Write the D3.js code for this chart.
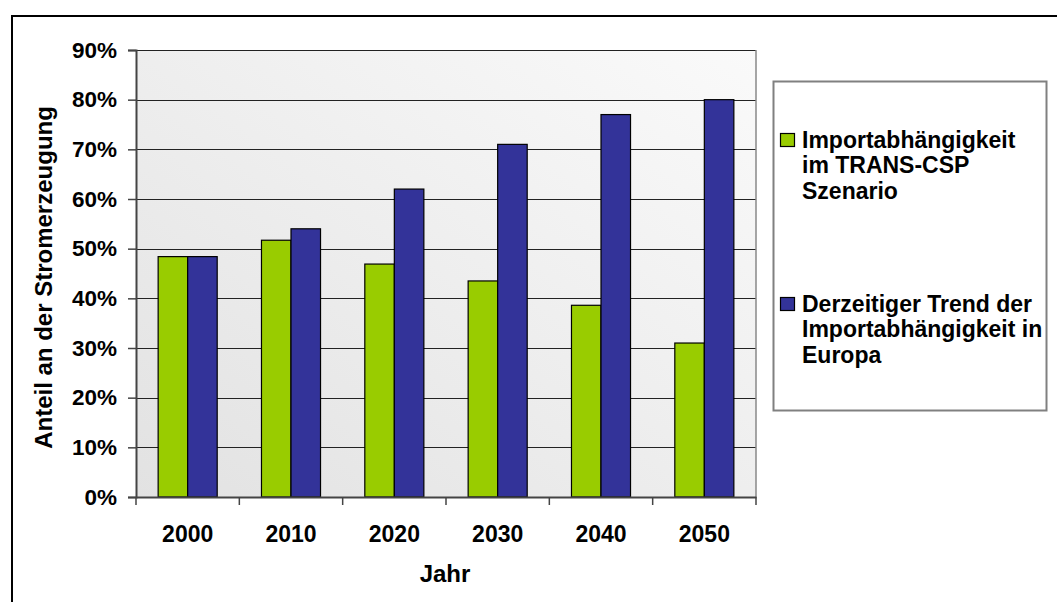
<!DOCTYPE html>
<html>
<head>
<meta charset="utf-8">
<script src="https://cdn.jsdelivr.net/npm/d3@7"></script>
<style>
html,body{margin:0;padding:0;background:#fff;}
svg{display:block;font-family:"Liberation Sans",Arial,sans-serif;font-weight:bold;}
</style>
</head>
<body>
<svg id="chart" width="1057" height="602"></svg>
<script>
const years = ["2000","2010","2020","2030","2040","2050"];
const seriesNames = ["Importabhängigkeit im TRANS-CSP Szenario", "Derzeitiger Trend der Importabhängigkeit in Europa"];
const transCsp = [48.4, 51.7, 46.9, 43.5, 38.6, 31.0];
const trendEuropa = [48.4, 54.0, 62.0, 71.0, 77.0, 80.0];
const yTicks = [0,10,20,30,40,50,60,70,80,90];
const legendLines = [["Importabhängigkeit","im TRANS-CSP","Szenario"],["Derzeitiger Trend der","Importabhängigkeit in","Europa"]];
const colors = ["#99cc00","#333399"];

const svg = d3.select("#chart");
const plot = {x0:136, x1:756, y0:50, y1:497};

// outer frame
svg.append("rect").attr("x",12).attr("y",16).attr("width",1100).attr("height",700)
  .attr("fill","none").attr("stroke","#000").attr("stroke-width",2);

const defs = svg.append("defs");
const grad = defs.append("linearGradient").attr("id","bg").attr("x1","100%").attr("y1","0%").attr("x2","0%").attr("y2","100%");
grad.append("stop").attr("offset","0%").attr("stop-color","#fafafa");
grad.append("stop").attr("offset","100%").attr("stop-color","#e2e2e2");

const x = d3.scaleBand().domain(years).range([plot.x0, plot.x1]).paddingInner(0).paddingOuter(0);
const y = d3.scaleLinear().domain([0,90]).range([plot.y1, plot.y0]);
const inner = d3.scaleBand().domain([0,1]).range([0, x.bandwidth()]).paddingInner(0).paddingOuter(0.75);

svg.append("rect").attr("x",plot.x0).attr("y",plot.y0).attr("width",plot.x1-plot.x0).attr("height",plot.y1-plot.y0)
  .attr("fill","url(#bg)");

// gridlines
svg.append("g").selectAll("line").data(yTicks.filter(d=>d>0)).join("line")
  .attr("x1",plot.x0).attr("x2",plot.x1).attr("y1",d=>Math.round(y(d))+0.5).attr("y2",d=>Math.round(y(d))+0.5)
  .attr("stroke","#222").attr("stroke-width",1);

// right border of plot
svg.append("line").attr("x1",plot.x1).attr("x2",plot.x1).attr("y1",plot.y0).attr("y2",plot.y1)
  .attr("stroke","#888").attr("stroke-width",1.5);

// bars
const data = years.map((yr,i)=>({yr, vals:[transCsp[i], trendEuropa[i]]}));
const g = svg.append("g");
data.forEach(d=>{
  d.vals.forEach((v,s)=>{
    g.append("rect")
      .attr("x", x(d.yr)+inner(s))
      .attr("y", y(v))
      .attr("width", inner.bandwidth())
      .attr("height", y(0)-y(v))
      .attr("fill", colors[s])
      .attr("stroke","#000").attr("stroke-width",1.2);
  });
});

// y axis
const yAxis = d3.axisLeft(y).tickValues(yTicks).tickFormat(d=>d+"%").tickSize(8).tickPadding(11);
const ya = svg.append("g").attr("transform",`translate(${plot.x0},0)`).call(yAxis);
ya.select(".domain").attr("stroke","#444").attr("stroke-width",2);
ya.selectAll(".tick line").attr("stroke","#444").attr("stroke-width",1.5);
ya.selectAll(".tick text").attr("font-size",22.5).attr("font-weight","bold").attr("fill","#000")
  .attr("font-family","Liberation Sans, Arial, sans-serif");

// x axis
const xAxis = d3.axisBottom(x).tickSize(0).tickPadding(0);
const xa = svg.append("g").attr("transform",`translate(0,${plot.y1})`).call(xAxis);
xa.select(".domain").attr("stroke","#444").attr("stroke-width",2);
xa.selectAll(".tick text").attr("font-size",23).attr("font-weight","bold").attr("fill","#000")
  .attr("font-family","Liberation Sans, Arial, sans-serif").attr("dy",null).attr("y",45);
// category separator ticks
svg.append("g").selectAll("line").data(years.concat(["end"])).join("line")
  .attr("x1",(d,i)=>i<years.length? x(d): plot.x1).attr("x2",(d,i)=>i<years.length? x(d): plot.x1)
  .attr("y1",plot.y1).attr("y2",plot.y1+8).attr("stroke","#444").attr("stroke-width",1.5);

// axis titles
svg.append("text").attr("transform",`translate(52,${(plot.y0+plot.y1)/2+4}) rotate(-90)`)
  .attr("text-anchor","middle").attr("font-size",24).text("Anteil an der Stromerzeugung");
svg.append("text").attr("x",(plot.x0+plot.x1)/2-1).attr("y",582).attr("text-anchor","middle")
  .attr("font-size",24).text("Jahr");

// legend
svg.append("rect").attr("x",773.5).attr("y",81.5).attr("width",273).attr("height",329)
  .attr("fill","#fff").attr("stroke","#808080").attr("stroke-width",2);
const legTop = [133.5, 297.5];
legendLines.forEach((lines,s)=>{
  svg.append("rect").attr("x",780.5).attr("y",legTop[s]).attr("width",14).attr("height",13)
    .attr("fill",colors[s]).attr("stroke","#000").attr("stroke-width",1.2);
  const t = svg.append("text").attr("x",802).attr("y",legTop[s]+14).attr("font-size",23);
  lines.forEach((ln,k)=>{
    t.append("tspan").attr("x",802).attr("dy",k===0?0:25.7).text(ln);
  });
});
</script>
</body>
</html>
